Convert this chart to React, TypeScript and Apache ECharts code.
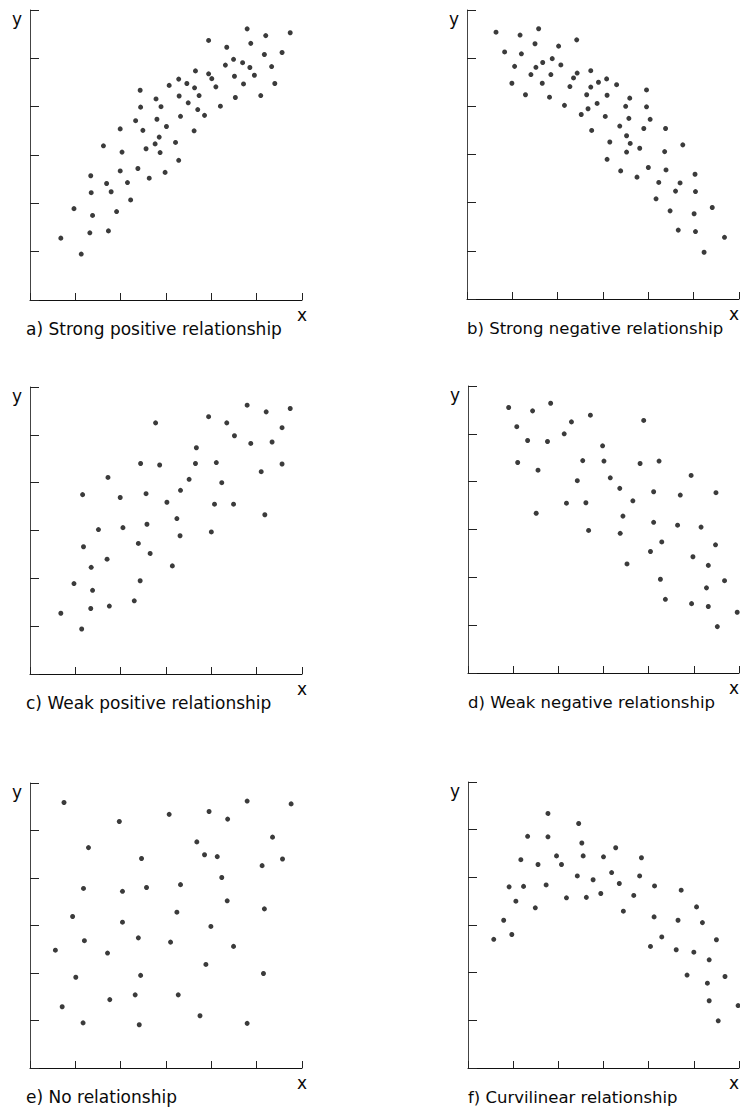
import React, { useEffect, useRef } from "react";
import * as echarts from "echarts";

// ---- axis scale (shared by all six panels) ----
const AXIS_MIN = 0;
const AXIS_MAX = 6;
const AXIS_STEP = 1;

// ---- panel titles ----
const panelTitles = [
  "a) Strong positive relationship",
  "b) Strong negative relationship",
  "c) Weak positive relationship",
  "d) Weak negative relationship",
  "e) No relationship",
  "f) Curvilinear relationship",
];

// ---- data, [x, y] ----
const strongPositive = [
  [0.68, 1.28], [1.13, 0.95], [0.97, 1.89], [1.32, 1.39], [1.38, 1.75], [1.35, 2.22],
  [1.34, 2.57], [1.62, 3.19], [1.73, 1.43], [1.69, 2.41], [1.79, 2.24], [1.91, 1.83],
  [1.99, 2.67], [2.15, 2.43], [2.22, 2.07], [2.03, 3.06], [1.99, 3.54], [2.33, 3.71],
  [2.49, 3.51], [2.44, 3.99], [2.43, 4.34], [2.38, 2.72], [2.56, 3.13], [2.63, 2.52],
  [2.76, 3.23], [2.87, 3.05], [2.85, 3.37], [2.8, 3.74], [2.78, 4.16], [2.89, 4.0],
  [2.98, 2.64], [3.01, 3.59], [3.21, 3.26], [3.07, 4.44], [3.28, 2.89], [3.32, 3.8],
  [3.29, 4.22], [3.28, 4.57], [3.49, 4.08], [3.46, 4.48], [3.63, 4.39], [3.65, 4.74],
  [3.62, 3.5], [3.73, 4.23], [3.7, 3.94], [3.85, 3.82], [3.94, 5.37], [3.94, 4.68],
  [4.01, 4.58], [4.1, 4.41], [4.2, 4.01], [4.34, 5.23], [4.31, 4.86], [4.49, 4.98],
  [4.51, 4.63], [4.53, 4.19], [4.69, 4.91], [4.71, 4.47], [4.79, 5.61], [4.87, 5.31],
  [4.85, 4.81], [4.95, 4.65], [5.09, 4.23], [5.2, 5.47], [5.17, 5.08], [5.33, 4.83],
  [5.4, 4.48], [5.56, 5.12], [5.74, 5.53],
];

const strongNegative = [
  [0.64, 5.54], [1.17, 5.48], [1.58, 5.61], [1.5, 5.3], [2.02, 5.25], [2.42, 5.38],
  [0.83, 5.13], [1.2, 5.09], [1.05, 4.83], [0.99, 4.48], [1.52, 4.81], [1.67, 4.91],
  [1.88, 4.99], [2.07, 4.86], [1.41, 4.66], [1.66, 4.48], [1.85, 4.66], [1.29, 4.24],
  [1.82, 4.19], [2.15, 4.02], [2.35, 4.59], [2.43, 4.69], [2.27, 4.41], [2.73, 4.74],
  [2.73, 4.4], [2.64, 4.24], [2.9, 4.5], [3.08, 4.57], [3.3, 4.45], [3.09, 4.23],
  [2.87, 4.06], [2.67, 3.95], [2.52, 3.83], [2.75, 3.5], [3.05, 3.79], [3.15, 3.26],
  [3.09, 2.9], [3.39, 2.66], [3.37, 3.59], [3.5, 4.0], [3.59, 4.17], [3.57, 3.75],
  [3.52, 3.39], [3.6, 3.23], [3.52, 3.05], [3.81, 3.13], [3.75, 2.53], [3.96, 4.34],
  [3.96, 3.99], [4.04, 3.73], [3.9, 3.54], [4.0, 2.73], [4.23, 2.42], [4.17, 2.08],
  [4.38, 3.54], [4.36, 3.06], [4.39, 2.68], [4.48, 1.83], [4.6, 2.24], [4.7, 2.41],
  [4.76, 3.2], [4.66, 1.43], [5.03, 2.59], [5.04, 2.23], [5.01, 1.77], [5.04, 1.4],
  [5.41, 1.9], [5.23, 0.97], [5.68, 1.28],
];

const weakPositive = [
  [0.68, 1.27], [1.14, 0.94], [0.97, 1.89], [1.34, 1.37], [1.38, 1.75], [1.35, 2.23],
  [1.18, 2.66], [1.16, 3.75], [1.51, 3.02], [1.72, 4.11], [1.7, 2.4], [1.75, 1.42],
  [1.99, 3.69], [2.05, 3.06], [2.3, 1.53], [2.43, 1.95], [2.39, 2.73], [2.44, 4.4],
  [2.56, 3.77], [2.58, 3.13], [2.65, 2.52], [2.77, 5.25], [2.86, 4.37], [3.02, 3.59],
  [3.14, 2.26], [3.24, 3.25], [3.31, 2.89], [3.32, 3.84], [3.51, 4.07], [3.67, 4.73],
  [3.65, 4.4], [3.94, 5.38], [4.0, 2.97], [4.07, 3.55], [4.11, 4.42], [4.23, 4.0],
  [4.34, 5.25], [4.49, 3.55], [4.51, 4.98], [4.79, 5.62], [4.87, 4.82], [5.1, 4.23],
  [5.18, 3.33], [5.21, 5.48], [5.34, 4.85], [5.56, 5.15], [5.56, 4.39], [5.74, 5.55],
];

const weakNegative = [
  [0.9, 5.55], [1.43, 5.48], [1.83, 5.64], [1.08, 5.15], [1.32, 4.86], [1.76, 4.84],
  [1.1, 4.4], [1.55, 4.24], [1.51, 3.34], [2.13, 5.0], [2.29, 5.25], [2.71, 5.39],
  [2.54, 4.44], [2.42, 4.02], [2.18, 3.55], [2.61, 3.56], [2.67, 2.98], [2.98, 4.75],
  [3.01, 4.43], [3.15, 4.08], [3.36, 3.86], [3.65, 3.6], [3.43, 3.28], [3.37, 2.92],
  [3.52, 2.28], [3.89, 5.28], [3.81, 4.38], [4.23, 4.43], [4.11, 3.79], [4.11, 3.15],
  [4.29, 2.74], [4.04, 2.54], [4.26, 1.96], [4.37, 1.54], [4.94, 4.13], [4.7, 3.72],
  [4.64, 3.09], [5.16, 3.05], [5.49, 3.77], [5.48, 2.68], [4.98, 2.43], [5.32, 2.25],
  [5.68, 1.93], [5.28, 1.78], [4.95, 1.45], [5.32, 1.39], [5.52, 0.97], [5.96, 1.27],
];

const noRelationship = [
  [0.75, 5.59], [1.97, 5.19], [3.07, 5.34], [3.95, 5.4], [4.36, 5.24], [4.79, 5.62],
  [5.76, 5.56], [1.29, 4.64], [3.68, 4.76], [5.35, 4.86], [2.46, 4.41], [3.85, 4.49],
  [4.13, 4.45], [5.12, 4.26], [5.57, 4.4], [4.23, 4.01], [1.18, 3.78], [2.04, 3.72],
  [2.57, 3.8], [3.32, 3.86], [4.35, 3.52], [5.17, 3.35], [0.94, 3.19], [2.04, 3.07],
  [3.24, 3.28], [3.99, 2.98], [1.2, 2.68], [2.39, 2.74], [3.1, 2.65], [0.56, 2.48],
  [1.71, 2.42], [4.49, 2.56], [3.88, 2.18], [1.01, 1.91], [2.44, 1.95], [5.15, 1.99],
  [2.32, 1.54], [3.27, 1.54], [0.71, 1.29], [1.76, 1.44], [3.75, 1.1], [1.17, 0.95],
  [2.41, 0.91], [4.79, 0.94],
];

const curvilinear = [
  [0.57, 2.7], [0.79, 3.1], [0.97, 2.8], [0.91, 3.8], [1.06, 3.5], [1.23, 3.81],
  [1.17, 4.37], [1.32, 4.86], [1.49, 3.36], [1.55, 4.27], [1.73, 3.84], [1.77, 5.34],
  [1.77, 4.85], [1.96, 4.45], [2.07, 4.27], [2.18, 3.57], [2.42, 4.03], [2.45, 5.13],
  [2.52, 4.72], [2.55, 4.45], [2.62, 3.58], [2.77, 3.95], [2.94, 3.66], [3.0, 4.43],
  [3.18, 4.1], [3.27, 4.62], [3.35, 3.87], [3.44, 3.29], [3.67, 3.62], [3.8, 4.03],
  [3.84, 4.41], [4.12, 3.17], [4.13, 3.82], [4.04, 2.55], [4.29, 2.75], [4.65, 3.1],
  [4.72, 3.73], [4.61, 2.48], [5.0, 2.43], [5.06, 3.38], [5.19, 3.05], [4.85, 1.95],
  [5.34, 2.27], [5.5, 2.69], [5.3, 1.78], [5.34, 1.41], [5.69, 1.92], [5.54, 0.99],
  [5.98, 1.31],
];

const panelData = [
  strongPositive,
  strongNegative,
  weakPositive,
  weakNegative,
  noRelationship,
  curvilinear,
];

// ---- layout (pixels) ----
const GRIDS = [
  { left: 30, top: 10, width: 272, height: 290 },
  { left: 467, top: 10, width: 272, height: 289 },
  { left: 30, top: 387, width: 272, height: 287 },
  { left: 468, top: 386, width: 271, height: 287 },
  { left: 30, top: 783, width: 272, height: 285 },
  { left: 468, top: 782, width: 271, height: 286 },
];

const CANVAS_W = 740;
const CANVAS_H = 1108;
const FONT = '"DejaVu Sans", "Liberation Sans", Arial, sans-serif';
const INK = "#0a0a0a";

export default function App() {
  const ref = useRef<HTMLDivElement>(null);

  useEffect(() => {
    if (!ref.current) return;
    const chart = echarts.init(ref.current, undefined, { renderer: "svg" });

    const grid = GRIDS.map((g) => ({ ...g, outerBoundsMode: "none", containLabel: false }));

    const xAxis = GRIDS.map((_, i) => ({
      type: "value",
      gridIndex: i,
      min: AXIS_MIN,
      max: AXIS_MAX,
      interval: AXIS_STEP,
      axisLine: { show: true, onZero: false, lineStyle: { color: "#111", width: 1 } },
      axisTick: { show: true, inside: true, length: 7, lineStyle: { color: "#222", width: 1 } },
      axisLabel: { show: false },
      splitLine: { show: false },
    }));

    const yAxis = GRIDS.map((_, i) => ({
      type: "value",
      gridIndex: i,
      min: AXIS_MIN,
      max: AXIS_MAX,
      interval: AXIS_STEP,
      axisLine: { show: true, onZero: false, lineStyle: { color: "#444", width: 1 } },
      axisTick: { show: true, inside: true, length: 9, lineStyle: { color: "#222", width: 1 } },
      axisLabel: { show: false },
      splitLine: { show: false },
    }));

    const series = panelData.map((data, i) => ({
      type: "scatter",
      xAxisIndex: i,
      yAxisIndex: i,
      data,
      symbol: "circle",
      symbolSize: 5,
      itemStyle: { color: INK },
      silent: true,
    }));

    const graphic: any[] = [];
    GRIDS.forEach((g, i) => {
      const axisY = g.top + g.height;
      const right = g.left + g.width;
      const isRightColumn = g.left > CANVAS_W / 2;
      graphic.push({
        type: "text",
        x: isRightColumn ? g.left : g.left - 4,
        y: axisY + 29,
        silent: true,
        style: {
          text: panelTitles[i],
          font: `${isRightColumn ? 16.5 : 17}px ${FONT}`,
          fill: INK,
          textAlign: "left",
          textVerticalAlign: "middle",
        },
      });
      graphic.push({
        type: "text",
        x: Math.min(right, CANVAS_W - 6),
        y: axisY + 15,
        silent: true,
        style: {
          text: "x",
          font: `17px ${FONT}`,
          fill: INK,
          textAlign: "center",
          textVerticalAlign: "middle",
        },
      });
      graphic.push({
        type: "text",
        x: g.left - 8,
        y: g.top + 9,
        silent: true,
        style: {
          text: "y",
          font: `17px ${FONT}`,
          fill: INK,
          textAlign: "right",
          textVerticalAlign: "middle",
        },
      });
    });

    chart.setOption({
      animation: false,
      backgroundColor: "#ffffff",
      grid,
      xAxis,
      yAxis,
      series,
      graphic,
    } as any);

    return () => {
      chart.dispose();
    };
  }, []);

  return (
    <div
      ref={ref}
      style={{ position: "absolute", left: 0, top: 0, width: CANVAS_W, height: CANVAS_H, background: "#fff" }}
    />
  );
}
